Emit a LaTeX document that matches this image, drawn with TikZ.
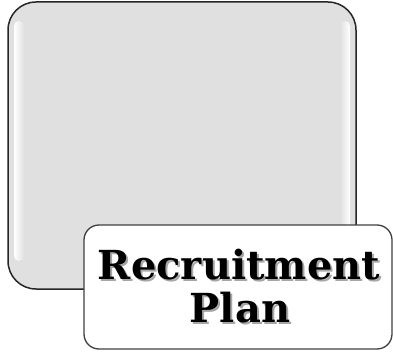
\documentclass[tikz,border=0pt]{standalone}
\usepackage{fontspec}
\setmainfont{DejaVu Serif}
\begin{document}
\begin{tikzpicture}[x=1pt,y=1pt,
  panel/.style={draw=black!85,line width=1.5pt,fill=black!12,rounded corners=28pt},
  labelbox/.style={draw=black!75,line width=1.3pt,fill=white,rounded corners=15pt},
  title/.style={font=\bfseries\fontsize{40}{42}\selectfont,inner sep=0pt,anchor=base}]
\useasboundingbox (0,0) rectangle (393,351);
\node[panel,minimum width=348pt,minimum height=287pt,inner sep=0pt] (panel) at (182,205.5) {};
\shade[left color=white,right color=black!12,rounded corners=5pt] (14,90) rectangle (24,330);
\shade[right color=white,left color=black!12,rounded corners=5pt] (340,90) rectangle (350,330);
\node[labelbox,minimum width=308pt,minimum height=124pt,inner sep=0pt] (label) at (238,64) {};
\node[title,text=black!35] at (241,70) {Recruitment};
\node[title] (t1) at (239,72) {Recruitment};
\node[title,text=black!35] at (242,27) {Plan};
\node[title] (t2) at (240,29) {Plan};
\end{tikzpicture}
\end{document}
